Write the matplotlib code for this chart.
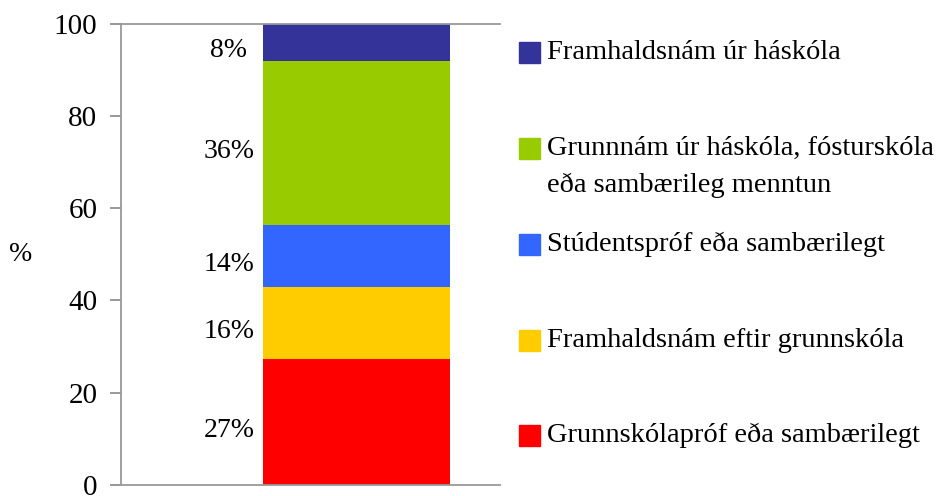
import matplotlib
matplotlib.use("Agg")
import matplotlib.pyplot as plt
from matplotlib.patches import Rectangle

# Menntun - one stacked column (percent)
categories = [
    "Grunnskólapróf eða sambærilegt",
    "Framhaldsnám eftir grunnskóla",
    "Stúdentspróf eða sambærilegt",
    "Grunnnám úr háskóla, fósturskóla\neða sambærileg menntun",
    "Framhaldsnám úr háskóla",
]
values = [27.3, 15.6, 13.5, 35.6, 8.0]
labels = ["27%", "16%", "14%", "36%", "8%"]
colors = ["#FF0000", "#FFCC00", "#3366FF", "#99CC00", "#333399"]
yticks = [0, 20, 40, 60, 80, 100]

plt.rcParams["font.family"] = ["Liberation Serif", "DejaVu Serif"]

W, H = 942, 496
fig = plt.figure(figsize=(W / 100, H / 100), dpi=100)
ax = fig.add_axes([121 / W, 1 - 484.7 / H, (500 - 121) / W, (484.7 - 24) / H])

bottom = 0
for v, lab, c in zip(values, labels, colors):
    ax.bar(0, v, width=1.0, bottom=bottom, color=c, edgecolor="none")
    ax.annotate(lab, (-0.682, bottom + v / 2), xytext=(0, -4),
                textcoords="offset points", ha="center",
                va="center_baseline", fontsize=20)
    bottom += v

ax.set_xlim(-1.259, 0.767)
ax.set_ylim(0, 100)
ax.set_yticks(yticks)
ax.set_xticks([])
ax.tick_params(axis="y", labelsize=21, length=8, width=1.2, color="#888888", pad=9)
for s in ["top", "left", "bottom"]:
    ax.spines[s].set_color("#999999")
    ax.spines[s].set_linewidth(1.3)
ax.spines["right"].set_visible(False)
ax.spines["top"].set_bounds(-1.312, 0.767)
ax.spines["bottom"].set_bounds(-1.312, 0.767)

ax.set_ylabel("%", rotation=0, fontsize=20, labelpad=0, va="center")
ax.yaxis.set_label_coords(-0.265, 0.5)

# legend, drawn in figure pixels (top entry first)
centers = [435.5, 340.5, 244.5, 148, 52.5]
for name, c, yc in zip(categories, colors, centers):
    fig.add_artist(Rectangle((519 / W, 1 - (yc + 10.5) / H), 21 / W, 21 / H,
                             transform=fig.transFigure, color=c))
    for i, line in enumerate(name.split("\n")):
        fig.text(547 / W, 1 - (yc + 6.5 + i * 37) / H, line, ha="left",
                 va="baseline", fontsize=20.5)

fig.savefig("out.png", dpi=100)
